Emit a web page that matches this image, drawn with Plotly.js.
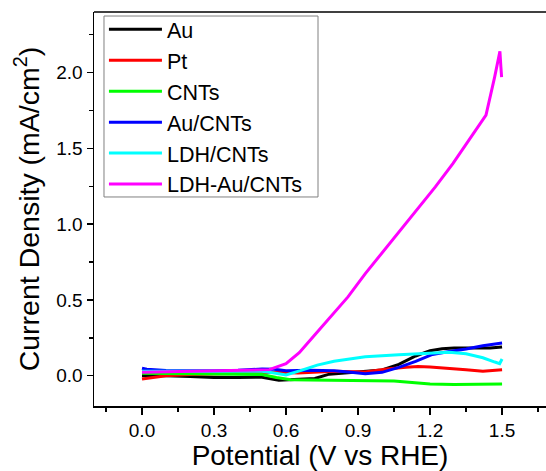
<!DOCTYPE html>
<html>
<head>
<meta charset="utf-8">
<script src="https://cdn.plot.ly/plotly-3.0.1.min.js"></script>
<style>
  html, body { margin: 0; padding: 0; background: #fff; overflow: hidden; }
  #chart { width: 546px; height: 471px; }
</style>
</head>
<body>
<div id="chart"></div>
<script>
// ---- data (potential in V vs RHE, current density in mA/cm^2) ----
const seriesNames = ["Au", "Pt", "CNTs", "Au/CNTs", "LDH/CNTs", "LDH-Au/CNTs"];
const seriesColors = ["#000000", "#ff0000", "#00ff00", "#0000ff", "#00ffff", "#ff00ff"];

const auV = [0, 0.1, 0.2, 0.3, 0.4, 0.5, 0.57, 0.65, 0.72, 0.78, 0.87, 0.95, 1.0, 1.07, 1.14, 1.2, 1.25, 1.3, 1.35, 1.4, 1.45, 1.5];
const auJ = [0.0, 0.0, -0.005, -0.012, -0.012, -0.01, -0.03, -0.022, -0.018, 0.01, 0.022, 0.03, 0.038, 0.075, 0.13, 0.165, 0.178, 0.182, 0.183, 0.18, 0.182, 0.19];

const ptV = [0, 0.05, 0.1, 0.2, 0.3, 0.4, 0.5, 0.57, 0.65, 0.8, 0.93, 1.02, 1.1, 1.15, 1.2, 1.28, 1.35, 1.42, 1.46, 1.5];
const ptJ = [-0.022, -0.01, 0.0, 0.008, 0.011, 0.012, 0.015, 0.022, 0.018, 0.029, 0.024, 0.044, 0.055, 0.06, 0.057, 0.05, 0.04, 0.03, 0.033, 0.04];

const cntV = [0, 0.1, 0.2, 0.3, 0.4, 0.5, 0.56, 0.62, 0.7, 0.8, 0.9, 1.0, 1.05, 1.1, 1.15, 1.2, 1.3, 1.4, 1.5];
const cntJ = [0.016, 0.014, 0.012, 0.011, 0.011, 0.008, -0.012, -0.027, -0.029, -0.03, -0.03, -0.032, -0.035, -0.042, -0.05, -0.055, -0.058, -0.058, -0.055];

const auCntV = [0, 0.02, 0.1, 0.2, 0.3, 0.4, 0.5, 0.55, 0.6, 0.7, 0.8, 0.87, 0.93, 1.0, 1.07, 1.14, 1.21, 1.28, 1.35, 1.42, 1.5];
const auCntJ = [0.049, 0.042, 0.035, 0.033, 0.033, 0.036, 0.044, 0.042, 0.033, 0.036, 0.033, 0.022, 0.013, 0.022, 0.055, 0.095, 0.14, 0.16, 0.176, 0.198, 0.215];

const ldhCntV = [0, 0.1, 0.2, 0.3, 0.4, 0.5, 0.55, 0.6, 0.66, 0.73, 0.8, 0.93, 1.07, 1.2, 1.28, 1.35, 1.42, 1.47, 1.49, 1.5];
const ldhCntJ = [0.029, 0.03, 0.031, 0.032, 0.033, 0.03, 0.018, 0.005, 0.033, 0.07, 0.095, 0.125, 0.138, 0.15, 0.155, 0.145, 0.118, 0.09, 0.08, 0.11];

const ldhAuCntV = [0, 0.1, 0.2, 0.3, 0.4, 0.5, 0.53, 0.6, 0.655, 0.713, 0.786, 0.858, 0.931, 1.004, 1.077, 1.149, 1.222, 1.295, 1.368, 1.433, 1.469, 1.484, 1.491, 1.495, 1.498];
const ldhAuCntJ = [0.022, 0.025, 0.028, 0.03, 0.032, 0.035, 0.04, 0.08, 0.152, 0.257, 0.389, 0.52, 0.675, 0.818, 0.96, 1.10, 1.246, 1.40, 1.565, 1.72, 1.97, 2.10, 2.14, 2.04, 1.97];

const xData = [auV, ptV, cntV, auCntV, ldhCntV, ldhAuCntV];
const yData = [auJ, ptJ, cntJ, auCntJ, ldhCntJ, ldhAuCntJ];

const xTickVals = [0.0, 0.3, 0.6, 0.9, 1.2, 1.5];
const xTickText = ["0.0", "0.3", "0.6", "0.9", "1.2", "1.5"];
const yTickVals = [0.0, 0.5, 1.0, 1.5, 2.0];
const yTickText = ["0.0", "0.5", "1.0", "1.5", "2.0"];

// ---- traces ----
const traces = seriesNames.map((name, i) => ({
  type: "scatter",
  mode: "lines",
  name: name,
  x: xData[i],
  y: yData[i],
  line: { color: seriesColors[i], width: 3 }
}));

const FONT = "Liberation Sans, Arial, sans-serif";

const layout = {
  width: 546,
  height: 471,
  margin: { l: 94, r: 0, t: 12, b: 65 },
  paper_bgcolor: "#ffffff",
  plot_bgcolor: "#ffffff",
  font: { family: FONT, color: "#000000" },
  showlegend: true,
  legend: {
    x: 0.022, y: 1.008, xanchor: "left", yanchor: "top",
    bgcolor: "rgba(0,0,0,0)",
    borderwidth: 0,
    font: { family: FONT, size: 21.5, color: "#000000" },
    itemwidth: 53,
    tracegroupgap: 0
  },
  xaxis: {
    range: [-0.2, 1.683],
    showgrid: false, zeroline: false,
    showline: true, linecolor: "#000000", linewidth: 1.5,
    ticks: "outside", ticklen: 7, tickwidth: 1.5, tickcolor: "#000000",
    tickmode: "array", tickvals: xTickVals, ticktext: xTickText,
    tickfont: { family: FONT, size: 19, color: "#000000" },
    minor: { dtick: 0.15, tick0: 0, ticks: "outside", ticklen: 4, tickwidth: 1.5, tickcolor: "#000000", showgrid: false },
    title: { text: "Potential (V vs RHE)", font: { family: FONT, size: 28, color: "#000000" }, standoff: 5 }
  },
  yaxis: {
    range: [-0.2, 2.4],
    showgrid: false, zeroline: false,
    showline: true, linecolor: "#000000", linewidth: 1.5,
    ticks: "outside", ticklen: 6, tickwidth: 1.5, tickcolor: "#000000",
    tickmode: "array", tickvals: yTickVals, ticktext: yTickText,
    tickfont: { family: FONT, size: 19, color: "#000000" },
    minor: { dtick: 0.25, tick0: 0, ticks: "outside", ticklen: 4, tickwidth: 1.5, tickcolor: "#000000", showgrid: false },
    title: { text: "Current Density (mA/cm<sup>2</sup>)", font: { family: FONT, size: 28.5, color: "#000000" }, standoff: 8 }
  },
  shapes: [
    // top frame line
    { type: "line", xref: "paper", yref: "paper", x0: 0, x1: 1, y0: 1, y1: 1,
      line: { color: "#000000", width: 1.5 } },
    // legend frame
    { type: "rect", xref: "paper", yref: "paper", x0: 0.0221, x1: 0.4956, y0: 0.5305, y1: 0.9898,
      line: { color: "#808080", width: 1 }, fillcolor: "rgba(0,0,0,0)", layer: "above" }
  ]
};

Plotly.newPlot("chart", traces, layout, { displayModeBar: false, staticPlot: true });
</script>
</body>
</html>
